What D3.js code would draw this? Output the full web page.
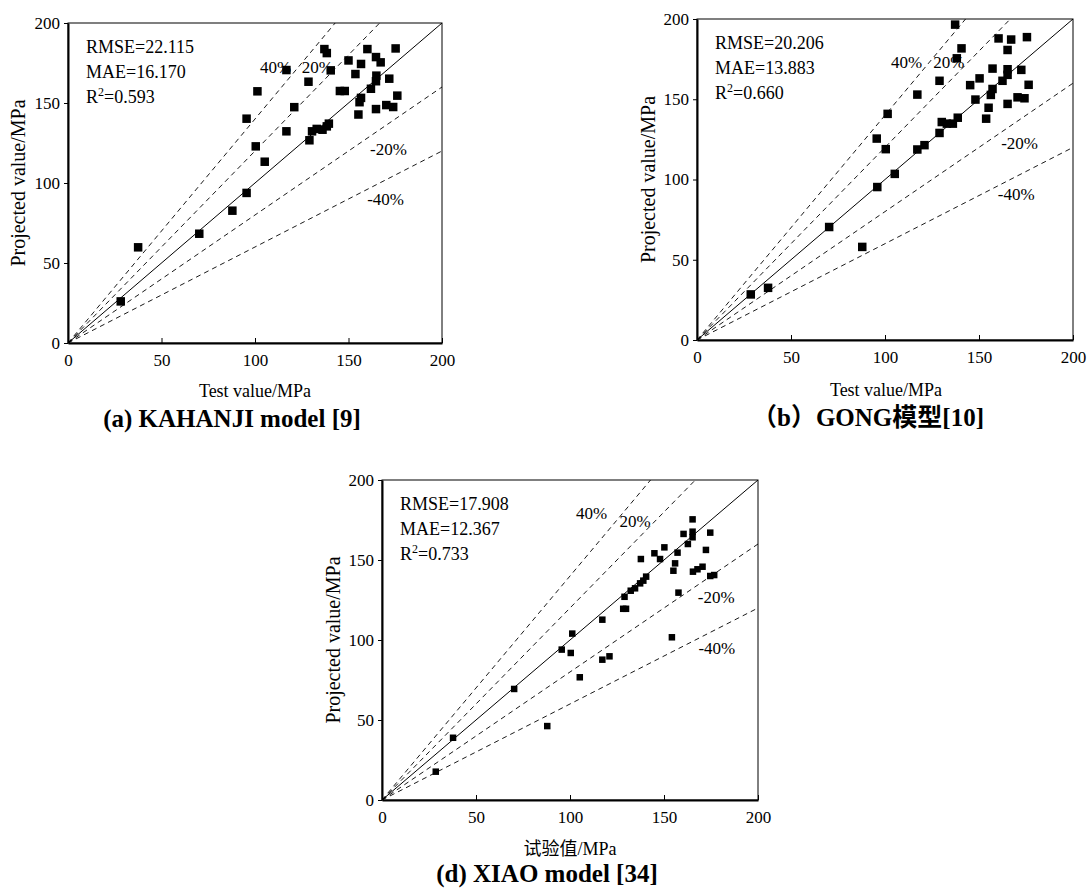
<!DOCTYPE html>
<html>
<head>
<meta charset="utf-8">
<script src="https://cdn.jsdelivr.net/npm/d3@7"></script>
<style>
  html, body { margin: 0; padding: 0; background: #fff; }
  svg { display: block; }
  text { font-family: "Liberation Serif", "Times New Roman", serif; fill: #000; }
  .cjk { font-family: "Liberation Serif", "Noto Sans CJK SC", serif; }
</style>
</head>
<body>
<svg id="chart" width="1088" height="890"></svg>
<script>
// ---- data -------------------------------------------------------------
const tickValues = [0, 50, 100, 150, 200];
const bandFactors = [1.4, 1.2, 0.8, 0.6];
const bandLabels = ["40%", "20%", "-20%", "-40%"];

// KAHANJI model
const kahanjiTest = [28.2, 37.5, 70.2, 87.9, 95.5, 95.5, 100.4, 101.3, 105.2, 116.8, 116.8, 121.0,
  128.6, 129.1, 130.5, 133.0, 136.1, 138.4, 139.5, 137.1, 138.4, 140.5, 145.4, 148.0, 150.0, 153.7,
  156.7, 155.9, 156.7, 155.3, 160.1, 164.7, 167.2, 162.0, 164.7, 164.9, 164.7, 171.8, 170.2, 173.9,
  175.2, 176.1];
const kahanjiPred = [26.0, 59.8, 68.3, 82.7, 93.8, 140.2, 122.9, 157.3, 113.3, 132.3, 170.6, 147.4,
  163.3, 126.7, 132.3, 133.8, 133.3, 135.4, 137.1, 183.7, 181.2, 170.4, 157.5, 157.5, 176.6, 168.1,
  174.4, 150.5, 153.2, 142.8, 183.7, 178.7, 175.4, 158.9, 163.6, 167.1, 146.2, 165.2, 148.7, 147.5,
  184.1, 154.6];
const kahanjiStats = ["22.115", "16.170", "0.593"];

// GONG model
const gongTest = [28.6, 37.8, 70.3, 87.9, 95.9, 95.6, 100.4, 101.4, 105.2, 117.2, 121.0, 117.2,
  129.0, 129.0, 130.2, 132.9, 136.1, 138.7, 137.3, 140.7, 138.2, 145.3, 150.3, 148.1, 153.8, 155.1,
  156.3, 157.2, 157.2, 160.4, 167.1, 165.2, 162.5, 165.2, 165.2, 165.2, 172.5, 170.5, 174.2, 175.5,
  176.4];
const gongPred = [28.4, 32.5, 70.4, 58.0, 95.3, 125.5, 118.9, 140.9, 103.5, 118.7, 121.4, 152.9,
  129.0, 161.5, 135.8, 134.8, 134.8, 138.5, 196.5, 181.7, 175.5, 158.8, 163.0, 149.8, 137.9, 144.7,
  152.7, 156.4, 169.1, 187.9, 187.2, 180.7, 161.5, 168.7, 165.2, 147.1, 168.3, 151.2, 150.6, 188.7,
  159.0];
const gongStats = ["20.206", "13.883", "0.660"];

// XIAO model
const xiaoTest = [28.6, 37.8, 70.3, 87.9, 95.6, 100.4, 101.2, 105.2, 117.2, 117.2, 121.0, 128.3,
  129.8, 129.0, 132.3, 134.6, 137.3, 139.0, 140.5, 137.7, 144.9, 147.9, 150.2, 157.2, 155.9, 155.0,
  157.7, 154.2, 160.4, 162.7, 165.2, 165.2, 165.2, 165.4, 167.8, 170.5, 172.3, 174.6, 174.6, 176.7];
const xiaoPred = [17.7, 38.9, 69.4, 46.2, 94.0, 91.9, 104.0, 76.7, 112.7, 87.7, 89.8, 119.5,
  119.5, 127.0, 130.8, 132.3, 135.4, 137.1, 139.6, 150.6, 154.2, 150.6, 157.9, 154.6, 147.9, 143.3,
  129.6, 101.7, 166.3, 160.0, 175.4, 167.7, 164.2, 142.7, 144.2, 145.8, 156.3, 167.1, 140.0, 140.6];
const xiaoStats = ["17.908", "12.367", "0.733"];

// ---- layout -----------------------------------------------------------
const panels = [
  { test: kahanjiTest, pred: kahanjiPred, stats: kahanjiStats,
    left: 68, top: 23, w: 374, h: 320, marker: 8.5,
    xTitle: "Test value/MPa", xTitleX: 255, xTitleY: 397, yTitleX: 25,
    caption: "(a) KAHANJI model [9]", captionX: 232, captionY: 427,
    bandLabelPos: [[102.7, 169], [125, 169], [161.5, 117.7], [160, 86.4]] },
  { test: gongTest, pred: gongPred, stats: gongStats,
    left: 697, top: 19, w: 376, h: 321, marker: 8.5,
    xTitle: "Test value/MPa", xTitleX: 886, xTitleY: 396, yTitleX: 655,
    caption: "\uFF08b\uFF09GONG模型[10]", captionX: 868, captionY: 426,
    bandLabelPos: [[103.2, 169.7], [125.6, 169.7], [161.8, 119], [160, 87.3]] },
  { test: xiaoTest, pred: xiaoPred, stats: xiaoStats,
    left: 382, top: 480, w: 376, h: 320, marker: 6.5,
    xTitle: "试验值/MPa", xTitleX: 570, xTitleY: 855, yTitleX: 340,
    caption: "(d) XIAO model [34]", captionX: 547, captionY: 882,
    bandLabelPos: [[103.2, 175.9], [126.3, 170.9], [168, 123.4], [168.3, 91]] }
];

const svg = d3.select("#chart");

panels.forEach((p, i) => {
  const x = d3.scaleLinear().domain([0, 200]).range([p.left, p.left + p.w]);
  const y = d3.scaleLinear().domain([0, 200]).range([p.top + p.h, p.top]);
  const g = svg.append("g");

  const clipId = "clip" + i;
  g.append("clipPath").attr("id", clipId)
    .append("rect").attr("x", p.left).attr("y", p.top).attr("width", p.w).attr("height", p.h);

  // reference lines: ±20 %, ±40 % (dashed) and 1:1 (solid)
  const lines = g.append("g").attr("clip-path", `url(#${clipId})`);
  bandFactors.forEach(f => {
    lines.append("line")
      .attr("x1", x(0)).attr("y1", y(0))
      .attr("x2", x(200)).attr("y2", y(200 * f))
      .attr("stroke", "#000").attr("stroke-width", 0.9)
      .attr("stroke-dasharray", "5,4");
  });
  lines.append("line")
    .attr("x1", x(0)).attr("y1", y(0))
    .attr("x2", x(200)).attr("y2", y(200))
    .attr("stroke", "#000").attr("stroke-width", 1);

  // band labels
  bandLabels.forEach((t, k) => {
    g.append("text")
      .attr("x", x(p.bandLabelPos[k][0])).attr("y", y(p.bandLabelPos[k][1]))
      .attr("font-size", 17).text(t);
  });

  // scatter points
  const pts = p.test.map((v, k) => [v, p.pred[k]]);
  g.append("g").selectAll("rect").data(pts).join("rect")
    .attr("x", d => x(d[0]) - p.marker / 2)
    .attr("y", d => y(d[1]) - p.marker / 2)
    .attr("width", p.marker).attr("height", p.marker)
    .attr("fill", "#000");

  // frame
  g.append("rect")
    .attr("x", p.left).attr("y", p.top).attr("width", p.w).attr("height", p.h)
    .attr("fill", "none").attr("stroke", "#000").attr("stroke-width", 1);

  // axes
  const xAxis = d3.axisBottom(x).tickValues(tickValues).tickSizeInner(-5).tickSizeOuter(0).tickPadding(11);
  const yAxis = d3.axisLeft(y).tickValues(tickValues).tickSizeInner(4).tickSizeOuter(0).tickPadding(4);

  const gx = g.append("g").attr("transform", `translate(0,${p.top + p.h})`).call(xAxis);
  const gy = g.append("g").attr("transform", `translate(${p.left},0)`).call(yAxis);
  [gx, gy].forEach(a => {
    a.select(".domain").attr("stroke", "#000").attr("stroke-width", 2);
    a.selectAll(".tick line").attr("stroke", "#000").attr("stroke-width", 1);
    a.selectAll(".tick text")
      .attr("font-family", "Liberation Serif, Times New Roman, serif")
      .attr("font-size", 17).attr("fill", "#000");
  });

  // statistics
  const statLabels = ["RMSE=", "MAE=", null];
  p.stats.forEach((s, k) => {
    const t = g.append("text")
      .attr("x", p.left + 18).attr("y", p.top + 30 + k * 25)
      .attr("font-size", 18);
    if (statLabels[k]) {
      t.text(statLabels[k] + s);
    } else {
      t.append("tspan").text("R");
      t.append("tspan").attr("font-size", 12).attr("dy", -7).text("2");
      t.append("tspan").attr("dy", 7).text("=" + s);
    }
  });

  // axis titles
  g.append("text").attr("class", "cjk")
    .attr("x", p.xTitleX).attr("y", p.xTitleY)
    .attr("text-anchor", "middle").attr("font-size", 18).text(p.xTitle);
  g.append("text")
    .attr("transform", `translate(${p.yTitleX},${p.top + p.h / 2}) rotate(-90)`)
    .attr("text-anchor", "middle").attr("font-size", 20).text("Projected value/MPa");

  // caption
  g.append("text").attr("class", "cjk")
    .attr("x", p.captionX).attr("y", p.captionY)
    .attr("text-anchor", "middle").attr("font-size", 25).attr("font-weight", "bold")
    .text(p.caption);
});
</script>
</body>
</html>
